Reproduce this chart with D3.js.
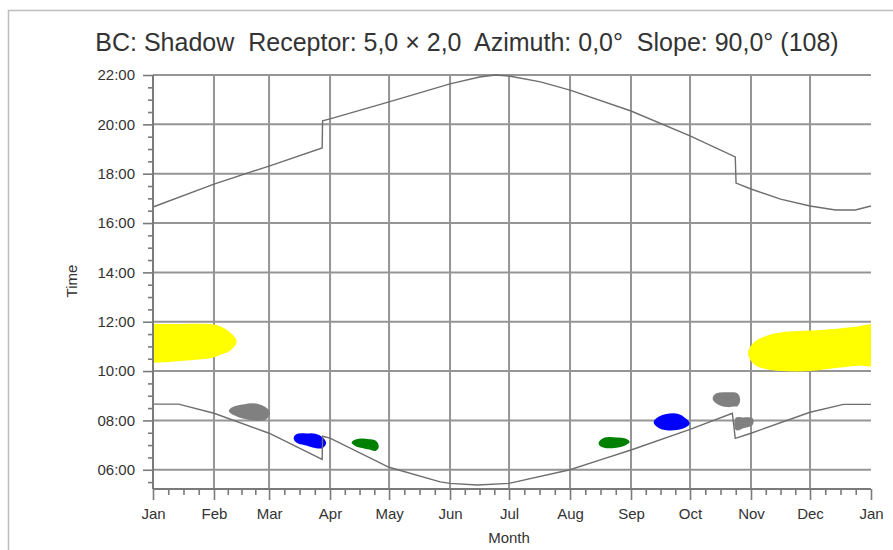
<!DOCTYPE html>
<html>
<head>
<meta charset="utf-8">
<script src="https://cdn.jsdelivr.net/npm/d3@7"></script>
<style>
  body { margin: 0; background: #fff; }
  text { font-family: "Liberation Sans", Arial, sans-serif; fill: #333; }
</style>
</head>
<body>
<script>
// month boundaries (day of year) and labels
var monthDays = [0, 31, 59, 90, 120, 151, 181, 212, 243, 273, 304, 334, 365];
var monthLabels = ["Jan", "Feb", "Mar", "Apr", "May", "Jun", "Jul", "Aug", "Sep", "Oct", "Nov", "Dec", "Jan"];
var timeTicks = [6, 8, 10, 12, 14, 16, 18, 20, 22];

// sunset line (hours), DST jumps as double points
var sunsetDays = [0, 31, 59, 86, 86.2, 90, 120, 151, 166, 174, 181, 197, 212, 243, 273, 296, 296.4, 304, 319, 334, 347, 357, 365];
var sunsetTimes = [16.65, 17.58, 18.31, 19.04, 20.14, 20.22, 20.91, 21.64, 21.92, 22.0, 21.96, 21.72, 21.39, 20.54, 19.53, 18.68, 17.62, 17.38, 16.97, 16.69, 16.53, 16.53, 16.69];

// sunrise line (hours)
var sunriseDays = [0, 13, 31, 59, 86, 86.2, 90, 120, 146, 151, 165, 181, 212, 227, 243, 273, 294.5, 296, 304, 334, 351, 365];
var sunriseTimes = [8.66, 8.66, 8.29, 7.48, 6.42, 7.36, 7.28, 6.1, 5.51, 5.45, 5.38, 5.45, 6.0, 6.39, 6.8, 7.64, 8.29, 7.27, 7.48, 8.33, 8.65, 8.65];

// shadow periods: day, start and end time
var shadows = [
  { color: "#ffff00",
    days:  [-3, 0, 14, 30, 34, 39, 42],
    top:   [11.87, 11.87, 11.87, 11.86, 11.78, 11.53, 11.2],
    bottom:[10.38, 10.38, 10.45, 10.58, 10.7, 10.87, 11.2] },
  { color: "#ffff00",
    days:  [303, 306, 312, 320, 334, 349, 358, 368],
    top:   [10.72, 11.15, 11.39, 11.53, 11.6, 11.69, 11.77, 11.8],
    bottom:[10.72, 10.3, 10.11, 10.04, 10.04, 10.18, 10.26, 10.3] },
  { color: "#808080",
    days:  [39, 41, 44, 48, 53, 57, 59],
    top:   [8.39, 8.52, 8.58, 8.64, 8.64, 8.5, 8.3],
    bottom:[8.39, 8.26, 8.16, 8.08, 8.02, 8.06, 8.3] },
  { color: "#0000ff",
    days:  [72, 73.5, 78, 82.5, 86, 87.5],
    top:   [7.27, 7.42, 7.43, 7.42, 7.28, 7.1],
    bottom:[7.27, 7.12, 7.02, 6.92, 6.92, 7.1] },
  { color: "#008000",
    days:  [101.5, 103.5, 110, 113, 114.3],
    top:   [7.1, 7.2, 7.2, 7.14, 6.95],
    bottom:[7.1, 6.98, 6.86, 6.8, 6.95] },
  { color: "#008000",
    days:  [227, 229.5, 235.5, 239.5, 241.8],
    top:   [7.07, 7.26, 7.27, 7.24, 7.13],
    bottom:[7.07, 6.93, 6.93, 7.01, 7.13] },
  { color: "#0000ff",
    days:  [255, 257.5, 261, 267, 270.5, 272.3],
    top:   [7.93, 8.12, 8.22, 8.22, 8.05, 7.87],
    bottom:[7.93, 7.72, 7.64, 7.66, 7.75, 7.87] },
  { color: "#808080",
    days:  [285, 287, 292, 295, 297, 298],
    top:   [8.9, 9.07, 9.1, 9.1, 9.05, 8.84],
    bottom:[8.9, 8.7, 8.58, 8.6, 8.62, 8.84] },
  { color: "#808080",
    days:  [296.6, 300, 304.5],
    top:   [8.08, 8.08, 8.06],
    bottom:[7.64, 7.72, 7.85] }
];

var W = 893, H = 550;
var margin = { top: 75, right: 22, bottom: 61, left: 153 };

var svg = d3.select("body").append("svg")
    .attr("width", W)
    .attr("height", H);

// outer frame
svg.append("rect")
    .attr("x", 8.5).attr("y", 10.5)
    .attr("width", 900).attr("height", 600)
    .attr("fill", "none")
    .attr("stroke", "#bdbdbd")
    .attr("stroke-width", 1.5);

var x = d3.scaleLinear().domain([0, 365]).range([margin.left, W - margin.right]);
var y = d3.scaleLinear().domain([5.22, 22]).range([H - margin.bottom, margin.top]);

svg.append("defs").append("clipPath").attr("id", "plot")
  .append("rect")
    .attr("x", x(0)).attr("y", y(22))
    .attr("width", x(365) - x(0)).attr("height", y(5.22) - y(22));

// title
svg.append("text")
    .attr("x", 467).attr("y", 51)
    .attr("text-anchor", "middle")
    .style("font-size", "25px")
    .style("white-space", "pre")
    .text("BC: Shadow  Receptor: 5,0 \u00d7 2,0  Azimuth: 0,0\u00b0  Slope: 90,0\u00b0 (108)");

// grid
var grid = svg.append("g").attr("stroke", "#959595").attr("stroke-width", 2);
grid.selectAll("line.h")
    .data(timeTicks)
    .enter().append("line")
    .attr("x1", x(0)).attr("x2", x(365))
    .attr("y1", function (d) { return y(d); })
    .attr("y2", function (d) { return y(d); });
grid.selectAll("line.v")
    .data(monthDays.slice(1, 12))
    .enter().append("line")
    .attr("x1", function (d) { return x(d); })
    .attr("x2", function (d) { return x(d); })
    .attr("y1", y(22)).attr("y2", y(5.22));

// shadow blobs
var outline = d3.line()
    .x(function (p) { return x(p[0]); })
    .y(function (p) { return y(p[1]); })
    .curve(d3.curveCatmullRomClosed.alpha(0.5));

var blobs = svg.append("g").attr("clip-path", "url(#plot)");
shadows.forEach(function (s) {
  var pts = [];
  s.days.forEach(function (d, i) { pts.push([d, s.top[i]]); });
  for (var i = s.days.length - 1; i >= 0; i--) {
    if (s.bottom[i] !== s.top[i]) pts.push([s.days[i], s.bottom[i]]);
  }
  blobs.append("path")
      .attr("d", outline(pts))
      .attr("fill", s.color)
      .attr("stroke", s.color)
      .attr("stroke-width", 2);
});

// sunrise / sunset lines
var line = d3.line()
    .x(function (d) { return x(d[0]); })
    .y(function (d) { return y(d[1]); });

[[sunsetDays, sunsetTimes], [sunriseDays, sunriseTimes]].forEach(function (s) {
  svg.append("path")
      .attr("d", line(d3.zip(s[0], s[1])))
      .attr("fill", "none")
      .attr("stroke", "#6e6e6e")
      .attr("stroke-width", 1.4);
});

// y axis
var yAxis = svg.append("g")
    .attr("transform", "translate(" + x(0) + ",0)")
    .call(d3.axisLeft(y).tickValues(timeTicks).tickSize(10).tickPadding(8)
      .tickFormat(function (d) { return (d < 10 ? "0" : "") + d + ":00"; }));
yAxis.append("g")
    .call(d3.axisLeft(y).tickValues(d3.range(5.5, 22, 0.5).filter(function (d) { return d % 2 !== 0; }))
      .tickSize(5).tickFormat(""));

// x axis
var minorDays = [];
for (var m = 0; m < 12; m++) {
  var a = monthDays[m], b = monthDays[m + 1];
  for (var k = 1; k < 4; k++) minorDays.push(a + (b - a) * k / 4);
}
var xAxis = svg.append("g")
    .attr("transform", "translate(0," + y(5.22) + ")")
    .call(d3.axisBottom(x).tickValues(monthDays).tickSize(11).tickPadding(8)
      .tickFormat(function (d, i) { return monthLabels[i]; }));
xAxis.append("g")
    .call(d3.axisBottom(x).tickValues(minorDays).tickSize(6).tickFormat(""));

svg.selectAll(".domain").attr("stroke", "#7a7a7a").attr("stroke-width", 2);
svg.selectAll(".tick line").attr("stroke", "#7a7a7a").attr("stroke-width", 1.6);
svg.selectAll(".tick text").style("font-size", "15px").attr("fill", "#3a3a3a");
// keep the domain ends square
yAxis.selectAll(".domain").attr("d", "M0," + y(22) + "V" + y(5.22));
xAxis.selectAll(".domain").attr("d", "M" + x(0) + ",0H" + x(365));

// axis titles
svg.append("text")
    .attr("transform", "translate(77,281)rotate(-90)")
    .attr("text-anchor", "middle")
    .style("font-size", "15px")
    .text("Time");
svg.append("text")
    .attr("x", x(181)).attr("y", 543)
    .attr("text-anchor", "middle")
    .style("font-size", "15px")
    .text("Month");
</script>
</body>
</html>
